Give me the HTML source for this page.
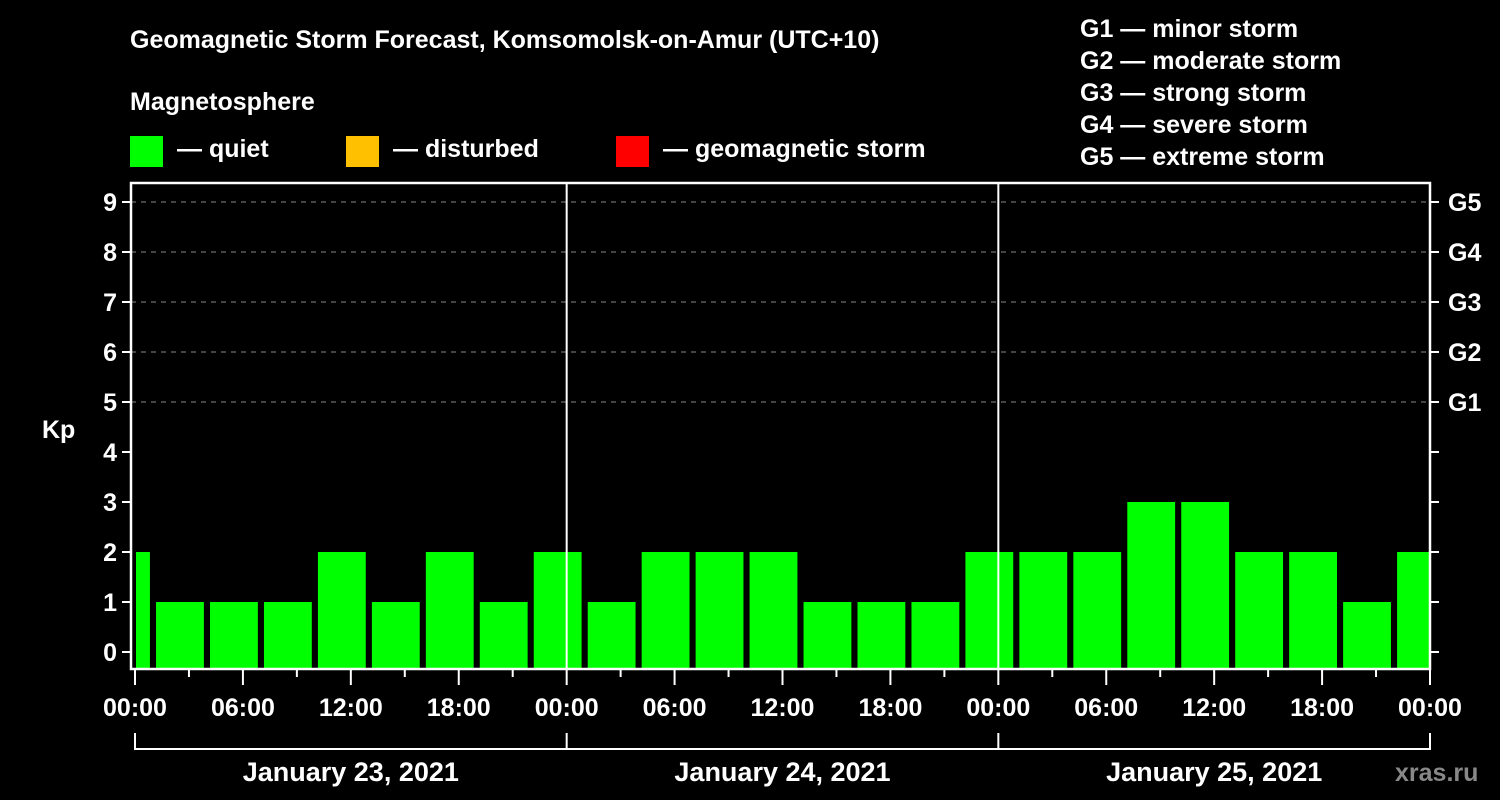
<!DOCTYPE html>
<html><head><meta charset="utf-8"><style>
body{margin:0;background:#000;width:1500px;height:800px;overflow:hidden}
svg{display:block;font-family:"Liberation Sans",Arial,sans-serif;font-weight:bold}
</style></head><body>
<svg id="c" width="1500" height="800" viewBox="0 0 1500 800">
<text x="130" y="48" fill="#fff" font-size="25">Geomagnetic Storm Forecast, Komsomolsk-on-Amur (UTC+10)</text>
<text x="130" y="110" fill="#fff" font-size="25">Magnetosphere</text>
<g><rect x="130" y="136" width="33" height="31" fill="#00ff00"/><text x="177" y="157" fill="#fff" font-size="25">— quiet</text></g>
<g><rect x="346" y="136" width="33" height="31" fill="#ffc000"/><text x="393" y="157" fill="#fff" font-size="25">— disturbed</text></g>
<g><rect x="616" y="136" width="33" height="31" fill="#ff0000"/><text x="663" y="157" fill="#fff" font-size="25">— geomagnetic storm</text></g>
<g fill="#fff" font-size="25">
<text x="1080" y="37">G1 — minor storm</text><text x="1080" y="69">G2 — moderate storm</text><text x="1080" y="101">G3 — strong storm</text><text x="1080" y="133">G4 — severe storm</text><text x="1080" y="165">G5 — extreme storm</text></g>
<text x="42" y="438" fill="#fff" font-size="25">Kp</text>
<g id="grid"></g><g id="bars"></g><g id="axes"></g>
<text x="1395" y="781" fill="#888" font-size="25">xras.ru</text>
</svg>
<script>
const kpValues=[2,1,1,1,2,1,2,1,2,1,2,2,2,1,1,1,2,2,2,3,3,2,2,1,2];
const yTicks=[0,1,2,3,4,5,6,7,8,9];
const gLabels=["G1","G2","G3","G4","G5"];
const gLevels=[5,6,7,8,9];
const dayLabels=["January 23, 2021","January 24, 2021","January 25, 2021"];
const hourLabels=["00:00","06:00","12:00","18:00"];
const NS="http://www.w3.org/2000/svg";
const X0=135,PXH=(1430-135)/72,L=131,R=1430,T=183,B=669;
const xs=h=>X0+h*PXH, ys=v=>652-v*50;
function mk(p,t,a){const e=document.createElementNS(NS,t);for(const k in a)e.setAttribute(k,a[k]);p.appendChild(e);return e;}
const grid=document.getElementById('grid'),bars=document.getElementById('bars'),axes=document.getElementById('axes');
gLevels.forEach(v=>{const l=mk(grid,'line',{x1:L,x2:R,y1:ys(v),y2:ys(v),stroke:'#888','stroke-dasharray':'5,5','stroke-width':1});

});
kpValues.forEach((v,i)=>{const c=-0.5+3*i;let a=xs(c-1.33),b=xs(c+1.33);a=Math.max(a,X0+1);b=Math.min(b,R);
const r=mk(bars,'rect',{x:a,y:ys(v),width:b-a,height:B-ys(v),fill:'#00ff00'});

});
mk(axes,'rect',{x:L,y:T,width:R-L,height:B-T,fill:'none',stroke:'#fff','stroke-width':2.5});
[24,48].forEach(h=>mk(axes,'line',{x1:xs(h),x2:xs(h),y1:T,y2:B,stroke:'#fff','stroke-width':2}));
yTicks.forEach(v=>{mk(axes,'line',{x1:L-9,x2:L,y1:ys(v),y2:ys(v),stroke:'#fff','stroke-width':2});
mk(axes,'line',{x1:R,x2:R+9,y1:ys(v),y2:ys(v),stroke:'#fff','stroke-width':2});
const t=mk(axes,'text',{x:L-14,y:ys(v)+9,fill:'#fff','font-size':25,'text-anchor':'end'});t.textContent=v;

});
gLevels.forEach((v,i)=>{const t=mk(axes,'text',{x:1448,y:ys(v)+9,fill:'#fff','font-size':25});t.textContent=gLabels[i];

});
for(let h=0;h<=72;h+=3){const maj=h%6===0;mk(axes,'line',{x1:xs(h),x2:xs(h),y1:B,y2:maj?685:677,stroke:'#fff','stroke-width':2});
if(maj){const t=mk(axes,'text',{x:xs(h),y:716,fill:'#fff','font-size':25,'text-anchor':'middle'});t.textContent=hourLabels[(h/6)%4];

}}
mk(axes,'line',{x1:xs(0),x2:xs(72),y1:749,y2:749,stroke:'#fff','stroke-width':2});
[0,24,48,72].forEach(h=>mk(axes,'line',{x1:xs(h),x2:xs(h),y1:733,y2:750,stroke:'#fff','stroke-width':2}));
dayLabels.forEach((d,i)=>{const t=mk(axes,'text',{x:xs(12+24*i),y:781,fill:'#fff','font-size':27,'text-anchor':'middle'});t.textContent=d;

});
</script>
</body></html>
